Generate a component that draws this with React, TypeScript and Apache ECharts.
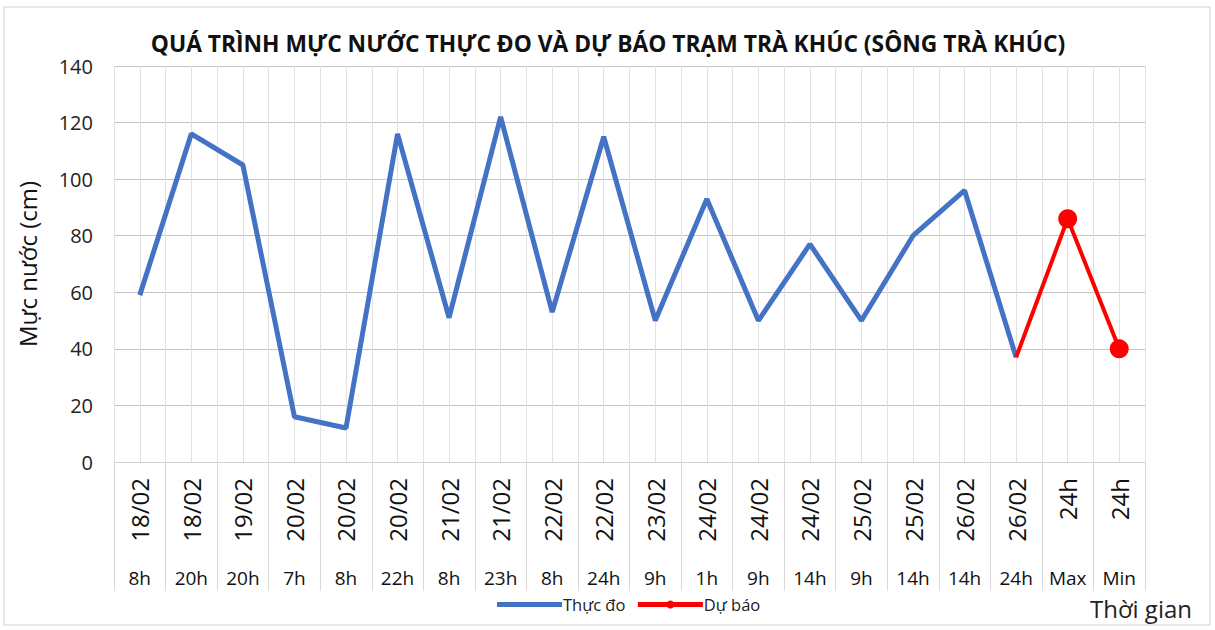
import React, { useEffect, useRef } from "react";
import * as echarts from "echarts";

const dateLabels = ["18/02","18/02","19/02","20/02","20/02","20/02","21/02","21/02","22/02","22/02","23/02","24/02","24/02","24/02","25/02","25/02","26/02","26/02","24h","24h"];
const hourLabels = ["8h","20h","20h","7h","8h","22h","8h","23h","8h","24h","9h","1h","9h","14h","9h","14h","14h","24h","Max","Min"];
const observed = [59,116,105,16,12,116,51,122,53,115,50,93,50,77,50,80,96,37,null,null];
const forecast = [null,null,null,null,null,null,null,null,null,null,null,null,null,null,null,null,null,37,86,40];
const yTicks = { min: 0, max: 140, interval: 20 };

const FONT = "'Open Sans', sans-serif";

export default function App() {
  const ref = useRef<HTMLDivElement>(null);
  useEffect(() => {
    if (!ref.current) return;
    const chart = echarts.init(ref.current, null, { renderer: "svg" });
    const n = dateLabels.length;
    chart.setOption({
      animation: false,
      backgroundColor: "#fff",
      title: {
        text: "QUÁ TRÌNH MỰC NƯỚC THỰC ĐO VÀ DỰ BÁO TRẠM TRÀ KHÚC (SÔNG TRÀ KHÚC)",
        left: 603,
        textAlign: "center",
        top: 27,
        textStyle: { fontFamily: FONT, fontSize: 22.8, fontWeight: "bold", color: "#111" },
      },
      grid: { left: 114, right: 70, top: 66, bottom: 168 },
      legend: {
        top: 591,
        left: 492,
        itemWidth: 65,
        itemHeight: 10,
        itemGap: 10,
        textStyle: { fontFamily: FONT, fontSize: 16.5, color: "#222", padding: [0, 0, 0, -4] },
        data: [
          { name: "Thực đo", icon: "path://M0,0L0.01,0M0,2.5L65,2.5L65,7.5L0,7.5ZM65,10L64.99,10" },
          { name: "Dự báo", lineStyle: { width: 5 } },
        ],
      },
      xAxis: [
        {
          type: "category",
          data: dateLabels,
          position: "bottom",
          boundaryGap: true,
          axisLine: { show: true, lineStyle: { color: "#d0d0d0", width: 1 } },
          axisTick: { show: true, length: 129, lineStyle: { color: "#d9d9d9" } },
          axisLabel: {
            rotate: 90,
            interval: 0,
            margin: 16,
            fontFamily: FONT,
            fontSize: 24,
            color: "#111",
          },
          splitLine: { show: false },
        },
        {
          type: "category",
          data: hourLabels,
          position: "bottom",
          offset: 104,
          axisLine: { show: false },
          axisTick: { show: false },
          axisLabel: { interval: 0, margin: 2, fontFamily: FONT, fontSize: 19, color: "#111" },
        },
        {
          type: "value",
          position: "top",
          min: 0,
          max: n,
          interval: 0.5,
          axisLine: { show: false },
          axisTick: { show: false },
          axisLabel: { show: false },
          splitLine: { show: true, lineStyle: { color: "#e2e2e2", width: 1 } },
        },
      ],
      yAxis: {
        type: "value",
        min: yTicks.min,
        max: yTicks.max,
        interval: yTicks.interval,
        name: "Mực nước (cm)",
        nameLocation: "middle",
        nameGap: 75,
        nameRotate: 90,
        nameTextStyle: { fontFamily: FONT, fontSize: 24, color: "#111" },
        axisLine: { show: false },
        axisTick: { show: false },
        axisLabel: { fontFamily: FONT, fontSize: 20, color: "#222", margin: 21 },
        splitLine: { show: true, lineStyle: { color: "#c4c4c4", width: 1 } },
      },
      graphic: [
        {
          type: "rect",
          shape: { x: 4, y: 7, width: 1206, height: 618 },
          style: { fill: "none", stroke: "#d0d0d0", lineWidth: 1 },
          silent: true,
        },
        {
          type: "text",
          right: 23,
          top: 596,
          style: { text: "Thời gian", fontFamily: FONT, fontSize: 24, fill: "#222" },
        },
      ],
      series: [
        {
          name: "Thực đo",
          type: "line",
          xAxisIndex: 0,
          data: observed,
          symbol: "none",
          lineStyle: { color: "#4472C4", width: 5 },
          itemStyle: { color: "#4472C4" },
        },
        {
          name: "Dự báo",
          type: "line",
          xAxisIndex: 0,
          data: forecast.map((v, i) => (i === 17 ? { value: v, symbol: "none" } : v)),
          symbol: "circle",
          symbolSize: 19,
          lineStyle: { color: "#FF0000", width: 4 },
          itemStyle: { color: "#FF0000" },
        },
      ],
    });
    return () => chart.dispose();
  }, []);
  return <div ref={ref} style={{ position: "fixed", left: 0, top: 0, width: 1215, height: 630 }} />;
}
